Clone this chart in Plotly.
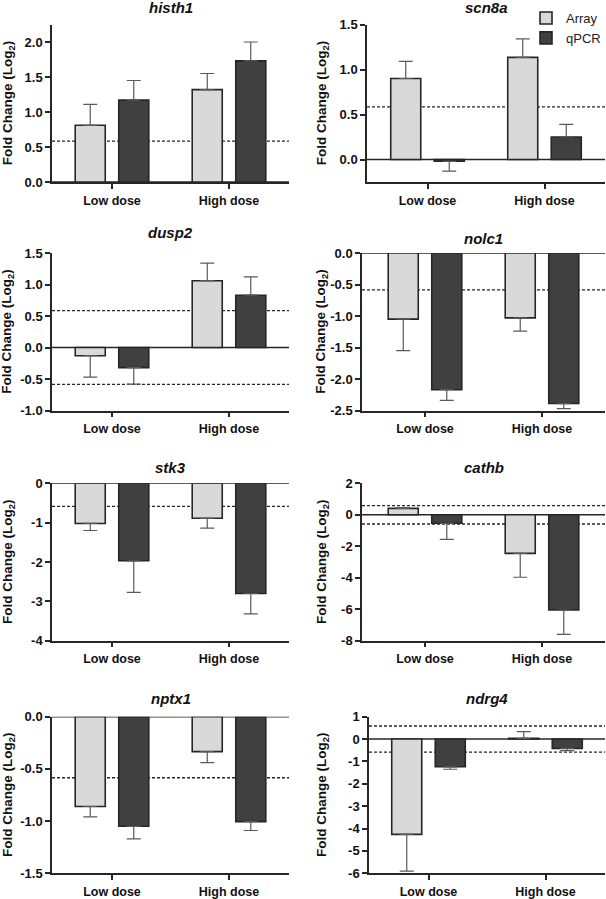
import plotly.graph_objects as go

genes = ["histh1", "scn8a", "dusp2", "nolc1", "stk3", "cathb", "nptx1", "ndrg4"]
doses = ["Low dose", "High dose"]

# log2 fold change per gene: [Low dose, High dose]
array_mean = [[0.81, 1.32], [0.90, 1.135], [-0.13, 1.06], [-1.05, -1.03],
              [-1.02, -0.89], [0.41, -2.45], [-0.86, -0.335], [-4.26, 0.03]]
array_err = [[0.30, 0.23], [0.19, 0.205], [0.34, 0.28], [0.50, 0.21],
             [0.18, 0.25], [0.05, 1.52], [0.10, 0.105], [1.64, 0.30]]
qpcr_mean = [[1.17, 1.73], [-0.02, 0.25], [-0.32, 0.83], [-2.17, -2.39],
             [-1.97, -2.80], [-0.54, -6.05], [-1.05, -1.005], [-1.24, -0.42]]
qpcr_err = [[0.28, 0.27], [0.11, 0.14], [0.26, 0.29], [0.17, 0.08],
            [0.80, 0.52], [1.02, 1.55], [0.12, 0.085], [0.11, 0.10]]

# y axis limits / ticks per gene
y_limits = [[0, 2.25], [-0.25, 1.5], [-1, 1.5], [-2.5, 0],
            [-4, 0], [-8, 2], [-1.5, 0], [-6, 1]]
y_ticks = [[0, 0.5, 1, 1.5, 2], [0, 0.5, 1, 1.5], [-1, -0.5, 0, 0.5, 1, 1.5],
           [-2.5, -2, -1.5, -1, -0.5, 0], [-4, -3, -2, -1, 0], [-8, -6, -4, -2, 0, 2],
           [-1.5, -1, -0.5, 0], [-6, -5, -4, -3, -2, -1, 0, 1]]
tick_decimals = [1, 1, 1, 1, 0, 0, 1, 0]
threshold = 0.585  # log2(1.5)

W, H = 606, 899
FONT = "Liberation Sans, Arial, sans-serif"
EDGE = "#262626"

# plot areas in pixels (left, right, top, bottom)
rows_px = [(24.5, 182), (253, 410.5), (483.3, 640.7), (716.7, 873.3)]
left_px = [(52, 289)] * 4
right_px = [(367, 605), (362, 605), (362, 605), (369, 605)]
title_px = [7, 7, 233, 238, 468, 468, 698, 698]
cat_px = 117.0


def err_parts(vals, errs):
	up = [e if v >= 0 else 0 for v, e in zip(vals, errs)]
	down = [e if v < 0 else 0 for v, e in zip(vals, errs)]
	return up, down


fig = go.Figure()
layout = {}
shapes = []
annotations = []

for i, gene in enumerate(genes):
	n = i + 1
	sfx = "" if n == 1 else str(n)
	row, col = i // 2, i % 2
	x0, x1 = left_px[row] if col == 0 else right_px[row]
	top, bot = rows_px[row]

	for name, means, errs, color in [("Array", array_mean[i], array_err[i], "#d9d9d9"),
									  ("qPCR", qpcr_mean[i], qpcr_err[i], "#404040")]:
		up, down = err_parts(means, errs)
		fig.add_trace(go.Bar(
			x=doses, y=means, name=name, legendgroup=name, showlegend=(i == 0),
			marker=dict(color=color, line=dict(color=EDGE, width=1.6)),
			error_y=dict(type="data", symmetric=False, array=up, arrayminus=down,
						 color="#5a5a5a", thickness=1.2, width=7),
			xaxis="x" + sfx, yaxis="y" + sfx,
		))

	a = ((x1 - x0) / cat_px - 1) / 2
	layout["xaxis" + sfx] = dict(
		domain=[x0 / W, x1 / W], anchor="y" + sfx, range=[-a, 1 + a],
		tickvals=doses, ticktext=["<b>%s</b>" % d for d in doses],
		showline=True, linecolor=EDGE, linewidth=1.5,
		ticks="outside", ticklen=5, tickwidth=1.5, tickcolor=EDGE,
		tickfont=dict(family=FONT, size=12.5, color="#111"), showgrid=False,
		ticklabelstandoff=1,
	)
	dec = tick_decimals[i]
	layout["yaxis" + sfx] = dict(
		domain=[1 - bot / H, 1 - top / H], anchor="x" + sfx, range=y_limits[i],
		tickvals=y_ticks[i], ticktext=["<b>{:.{}f}</b>".format(v, dec) for v in y_ticks[i]],
		showline=True, linecolor=EDGE, linewidth=1.5,
		ticks="outside", ticklen=5, tickwidth=1.5, tickcolor=EDGE,
		tickfont=dict(family=FONT, size=13, color="#111"),
		showgrid=False, zeroline=False,
	)

	# zero line
	shapes.append(dict(type="line", xref="x%s domain" % sfx, yref="y" + sfx,
					   x0=0, x1=1, y0=0, y1=0, layer="below",
					   line=dict(color=EDGE, width=1.5)))
	# +/- 1.5 fold thresholds
	for t in (threshold, -threshold):
		if y_limits[i][0] < t < y_limits[i][1]:
			shapes.append(dict(type="line", xref="x%s domain" % sfx, yref="y" + sfx,
							   x0=0, x1=1, y0=t, y1=t, layer="below",
							   line=dict(color=EDGE, width=1.3, dash="3px,2px")))

	annotations.append(dict(text="<b><i>%s</i></b>" % gene, xref="paper", yref="paper",
							x=(x0 + x1) / 2 / W, y=1 - title_px[i] / H,
							xanchor="center", yanchor="middle", showarrow=False,
							font=dict(family=FONT, size=15, color="#111")))
	annotations.append(dict(text="<b>Fold Change (Log<sub>2</sub>)</b>", xref="paper", yref="paper",
							x=(8 if col == 0 else 322) / W, y=1 - (top + bot) / 2 / H,
							xanchor="center", yanchor="middle", textangle=-90, showarrow=False,
							font=dict(family=FONT, size=13.5, color="#111")))

fig.update_layout(
	**layout,
	width=W, height=H,
	margin=dict(l=0, r=0, t=0, b=0, autoexpand=False),
	paper_bgcolor="white", plot_bgcolor="white",
	barmode="group", bargap=0.256, bargroupgap=0.31,
	shapes=shapes, annotations=annotations,
	showlegend=True,
	legend=dict(x=1, y=1 - 3 / H, xanchor="right", yanchor="top",
				font=dict(family=FONT, size=13, color="#222"),
				bgcolor="rgba(0,0,0,0)", tracegroupgap=0, itemwidth=30),
)

# page body has an 8px default margin, drop it so the chart sits at the corner
fig.write_html("out.html", config={"displayModeBar": False},
			   post_script="document.body.style.margin='0px';")
